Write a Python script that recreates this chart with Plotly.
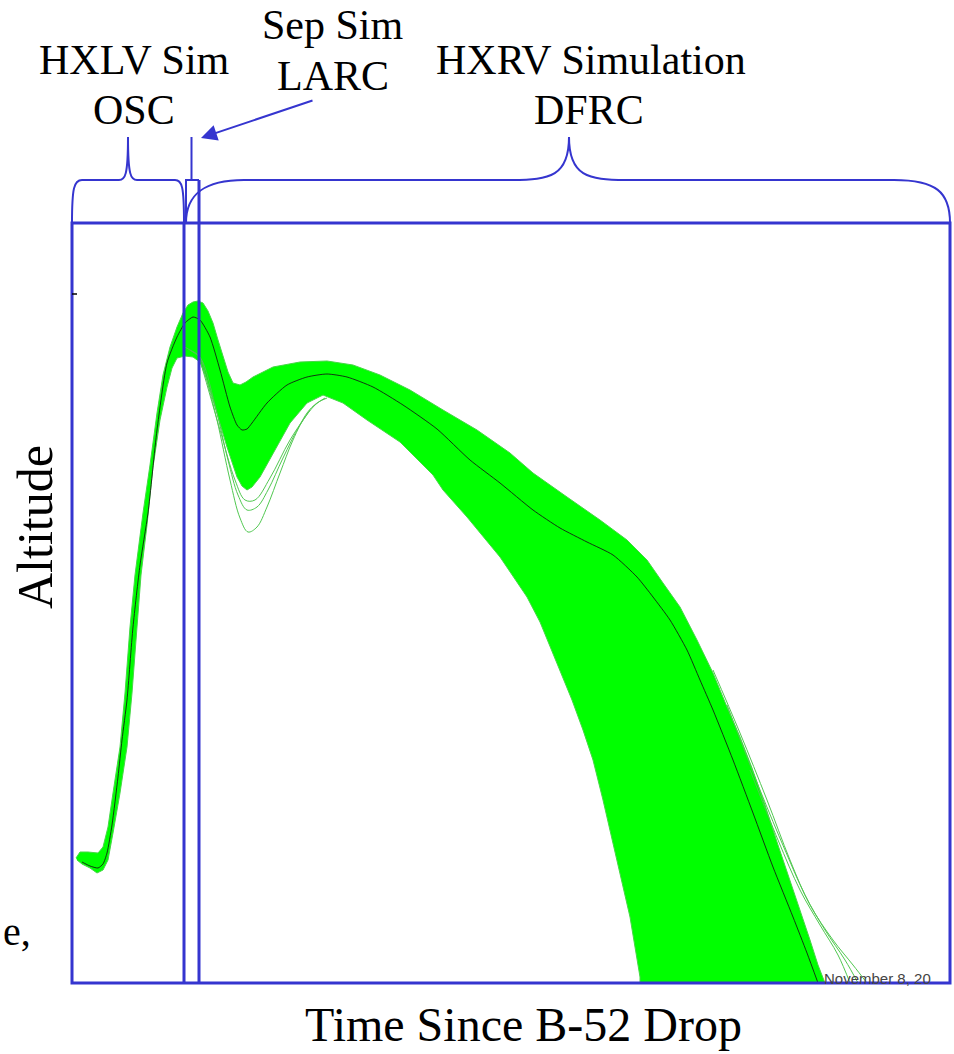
import plotly.graph_objects as go

# ---- data (time / altitude in arbitrary chart units) ----
# nominal (black) trajectory
nominal_time = [10, 18, 26, 31, 35, 40, 46, 50, 55, 61, 68, 76, 85, 95, 105, 113, 121, 128, 138, 148,
                158, 165, 170, 175, 180, 195, 215, 235, 255, 275, 301, 331, 365, 398, 428, 461, 488,
                515, 541, 565, 581, 598, 615, 628, 641, 661, 681, 701, 721, 735, 746]
nominal_alt = [121, 117, 115, 119, 130, 158, 206, 243, 283, 356, 418, 470, 553, 620, 646, 660, 666, 663, 646, 613,
               576, 558, 553, 554, 560, 580, 598, 606, 609, 606, 596, 578, 554, 523, 500, 473, 455,
               441, 428, 406, 386, 363, 333, 303, 273, 223, 170, 116, 66, 30, 0]

# upper / leading edge of the dispersion envelope (Monte Carlo runs)
band_upper_time = [4, 8, 16, 26, 31, 36, 41, 48, 53, 58, 63, 71, 78, 85, 91, 98, 105, 111, 116, 121,
                   126, 131, 136, 141, 146, 151, 156, 161, 168, 174, 181, 201, 228, 255, 281, 308,
                   338, 371, 405, 438, 461, 495, 528, 555, 575, 591, 608, 625, 641, 655, 668, 680,
                   693, 706, 718, 728, 738, 746, 753]
band_upper_alt = [125, 131, 131, 130, 136, 156, 190, 236, 290, 356, 408, 470, 518, 570, 608, 636, 656, 670, 678, 681,
                  682, 680, 672, 660, 643, 626, 611, 600, 598, 601, 606, 616, 621, 622, 618, 608,
                  593, 573, 553, 530, 510, 486, 463, 443, 423, 400, 376, 343, 310, 276, 246, 215,
                  178, 138, 103, 73, 43, 18, 0]

# lower / trailing edge of the envelope (listed from the end back to the start)
band_lower_time = [568, 568, 558, 545, 531, 521, 511, 500, 490, 478, 468, 455, 438, 428, 395, 371, 361,
                   328, 295, 271, 251, 235, 218, 201, 188, 180, 175, 170, 165, 155, 145, 135, 128,
                   121, 113, 105, 100, 95, 88, 81, 75, 69, 65, 60, 55, 48, 41, 36, 31, 25, 18, 10, 5]
band_lower_alt = [0, 6, 66, 123, 183, 223, 253, 283, 308, 338, 361, 386, 411, 426, 466, 493, 508,
                  541, 563, 580, 588, 580, 560, 530, 506, 496, 493, 497, 506, 536, 570, 603, 621,
                  626, 627, 625, 615, 596, 563, 516, 458, 408, 356, 290, 236, 190, 150, 123, 113, 110, 115, 119, 123]

# individual outlying runs
outlier1_time = [111, 121, 128, 136, 145, 158, 168, 176, 185, 195, 208, 221, 235, 245, 255]
outlier1_alt = [637, 631, 625, 598, 563, 503, 465, 451, 456, 476, 510, 543, 570, 580, 585]
outlier2_time = [118, 128, 143, 156, 166, 175, 185, 196, 211, 228, 243, 253]
outlier2_alt = [633, 626, 578, 523, 488, 473, 476, 493, 525, 558, 578, 585]
outlier3_time = [128, 148, 163, 173, 183, 198, 218, 238]
outlier3_alt = [623, 553, 503, 483, 483, 505, 543, 573]
outlier4_time = [641, 668, 695, 718, 738, 761, 781, 795]
outlier4_alt = [313, 250, 183, 123, 78, 43, 18, 0]
outlier5_time = [655, 688, 713, 733, 753, 773, 786]
outlier5_alt = [278, 193, 133, 88, 53, 23, 0]
outlier6_time = [678, 706, 728, 748, 766, 778]
outlier6_alt = [213, 143, 93, 58, 28, 0]

# simulation phase boundaries (time) and box top
phase_bounds = [0, 112, 127, 878]
box_top = 760
sep_top = 803

BLUE = "#3535CF"
SERIF = "Liberation Serif, Times New Roman, serif"

fig = go.Figure()

# envelope polygon
fig.add_trace(go.Scatter(
    x=band_upper_time + band_lower_time,
    y=band_upper_alt + band_lower_alt,
    mode="lines", fill="toself", fillcolor="#00FF00",
    line=dict(color="rgb(70,215,70)", width=1), hoverinfo="skip", showlegend=False))

for tx, ay in [(outlier1_time, outlier1_alt), (outlier2_time, outlier2_alt), (outlier3_time, outlier3_alt),
               (outlier4_time, outlier4_alt), (outlier5_time, outlier5_alt), (outlier6_time, outlier6_alt)]:
    fig.add_trace(go.Scatter(x=tx, y=ay, mode="lines", line=dict(color="rgb(80,200,80)", width=1, shape="spline"),
                             hoverinfo="skip", showlegend=False))

fig.add_trace(go.Scatter(x=nominal_time, y=nominal_alt, mode="lines",
                         line=dict(color="rgba(20,20,20,0.85)", width=1, shape="spline", smoothing=0.6),
                         showlegend=False))

t0, t1, t2, t3 = phase_bounds
shapes = [
    # main box
    dict(type="rect", x0=t0, x1=t3, y0=0, y1=box_top, line=dict(color=BLUE, width=3)),
    # phase divider lines
    dict(type="line", x0=t1, x1=t1, y0=0, y1=box_top, line=dict(color=BLUE, width=3)),
    dict(type="line", x0=t2, x1=t2, y0=0, y1=sep_top, line=dict(color=BLUE, width=3)),
    # sep sim small bracket
    dict(type="path", path=f"M {t1+2},{box_top} L {t1+2},{sep_top} L {t2},{sep_top}",
         line=dict(color=BLUE, width=2)),
    dict(type="line", x0=(t1 + t2) / 2, x1=(t1 + t2) / 2, y0=sep_top, y1=846, line=dict(color=BLUE, width=2)),
    # HXLV brace
    dict(type="path",
         path=(f"M {t0},{box_top} C {t0},{box_top+35} {t0+2},{sep_top} {t0+10},{sep_top} "
               f"L 47,{sep_top} C 53,{sep_top} 56,{sep_top+4} 56,846 "
               f"C 56,{sep_top+4} 59,{sep_top} 65,{sep_top} "
               f"L {t1-9},{sep_top} C {t1-2},{sep_top} {t1},{sep_top-6} {t1},{box_top}"),
         line=dict(color=BLUE, width=2)),
    # HXRV brace
    dict(type="path",
         path=(f"M {t1+2},{box_top} C {t1+2},{box_top+30} {t1+22},{sep_top} {t1+60},{sep_top} "
               f"L 440,{sep_top} C 478,{sep_top} 497,{sep_top+4} 497,846 "
               f"C 497,{sep_top+4} 516,{sep_top} 554,{sep_top} "
               f"L {t3-56},{sep_top} C {t3-14},{sep_top} {t3},{sep_top-12} {t3},{box_top}"),
         line=dict(color=BLUE, width=2)),
    # small y tick
    dict(type="line", x0=0, x1=5, y0=689, y1=689, line=dict(color="black", width=1.5)),
]
for s in shapes:
    s["layer"] = "above"
fig.update_layout(shapes=shapes)

ann = []
def txt(x, y, s, size=42, **kw):
    d = dict(x=x, y=y, text=s, showarrow=False, xref="x", yref="y",
             font=dict(family=SERIF, size=size, color="black"), xanchor="center", yanchor="middle")
    d.update(kw)
    ann.append(d)

txt(62, 923, "HXLV Sim")
txt(62, 873, "OSC")
txt(261, 958, "Sep Sim")
txt(261, 907, "LARC")
txt(519, 923, "HXRV Simulation")
txt(517, 873, "DFRC")
txt(451, -41, "Time Since B-52 Drop", size=48)
txt(-37, 456, "Altitude", size=50, textangle=-90)
txt(-71, 52, "e,", size=40, xanchor="left")
ann.append(dict(x=750, y=5, text="November 8, 20", showarrow=False, xref="x", yref="y",
                xanchor="left", yanchor="middle",
                font=dict(family="Liberation Sans, Arial, sans-serif", size=15, color="#444")))
# arrow to sep sim
ann.append(dict(x=129, y=845, ax=242, ay=883, xref="x", yref="y", axref="x", ayref="y",
                text="", showarrow=True, arrowhead=2, arrowsize=1.6, arrowwidth=2, arrowcolor=BLUE))

fig.update_layout(
    annotations=ann,
    width=954, height=1054,
    margin=dict(l=0, r=0, t=0, b=0),
    paper_bgcolor="white", plot_bgcolor="white",
    xaxis=dict(range=[-72, 882], domain=[0, 1], visible=False, fixedrange=True),
    yaxis=dict(range=[-71, 983], domain=[0, 1], visible=False, fixedrange=True),
    showlegend=False,
)

fig.write_html("out.html")
